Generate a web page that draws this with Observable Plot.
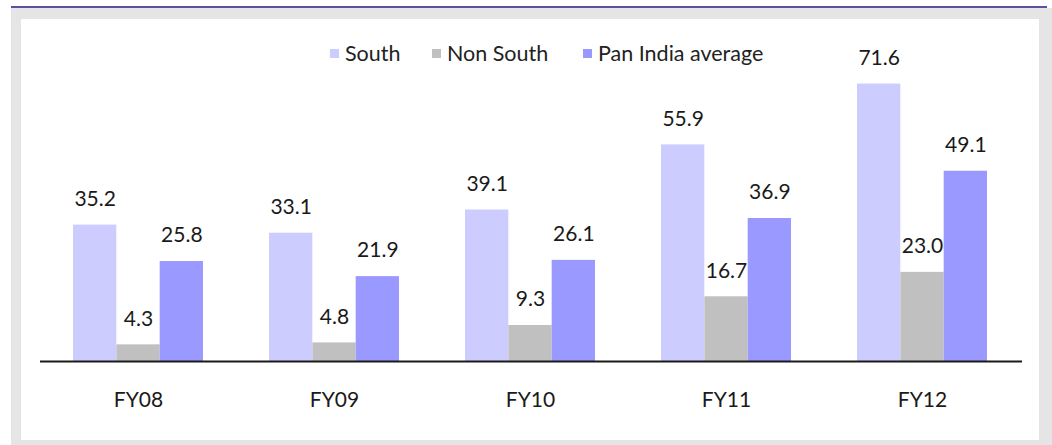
<!DOCTYPE html>
<html>
<head>
<meta charset="utf-8">
<script src="https://cdn.jsdelivr.net/npm/d3@7"></script>
<script src="https://cdn.jsdelivr.net/npm/@observablehq/plot@0.6"></script>
<style>
  html, body { margin: 0; padding: 0; background: #fff; width: 1052px; height: 445px; overflow: hidden; }
  #topline { position: absolute; left: 11px; top: 6px; width: 1036px; height: 2px; background: #5a529e; }
  #frame { position: absolute; left: 11px; top: 8px; width: 1041px; height: 437px; background: #e5e5e5; }
  #panel { position: absolute; left: 21px; top: 19px; width: 1018px; height: 421px; background: #fff; }
  #chart { position: absolute; left: 0; top: 0; }
  #legend { position: absolute; top: 40px; left: 0; font-family: Lato, "Open Sans", sans-serif; font-size: 21.5px; color: #222; }
  .item { position: absolute; white-space: nowrap; display: flex; align-items: center; }
  .sw { width: 9px; height: 9px; display: inline-block; margin-right: 6px; }
</style>
</head>
<body>
<div id="topline"></div>
<div id="frame"></div>
<div id="panel"></div>
<div id="chart"></div>
<div id="legend"></div>
<script>
const years = ["FY08", "FY09", "FY10", "FY11", "FY12"];
const seriesNames = ["South", "Non South", "Pan India average"];
const south = [35.2, 33.1, 39.1, 55.9, 71.6];
const nonSouth = [4.3, 4.8, 9.3, 16.7, 23.0];
const panIndia = [25.8, 21.9, 26.1, 36.9, 49.1];
const colors = ["#ccccff", "#c0c0c0", "#9999ff"];

const seriesValues = [south, nonSouth, panIndia];
const data = [];
years.forEach((yr, i) => {
  seriesNames.forEach((s, j) => {
    data.push({year: yr, series: s, value: seriesValues[j][i]});
  });
});

const W = 1052, H = 445, ML = 40, MR = 30, MT = 51, MB = 84;
const PAD_IN = 0.338, PAD_OUT = 0.169, ALIGN = 0.477;
// bandwidth of the group scale, used to split each group into three bars
const bw = d3.scaleBand(years, [ML, W - MR]).paddingInner(PAD_IN).paddingOuter(PAD_OUT).align(ALIGN).bandwidth();
const third = bw / 3;

const marks = [];
seriesNames.forEach((s, j) => {
  const sub = data.filter(d => d.series === s);
  marks.push(Plot.barY(sub, {x: "year", y: "value", fill: "series", insetLeft: j * third, insetRight: (2 - j) * third}));
  marks.push(Plot.text(sub, {x: "year", y: "value", text: d => d.value.toFixed(1), dx: (j - 1) * third, dy: -26, fontSize: 21, fill: "#1a1a1a"}));
});
marks.push(Plot.ruleY([0], {stroke: "#1a1a1a", strokeWidth: 2}));
marks.push(Plot.axisX({anchor: "bottom", tickSize: 0, tickPadding: 31, fontSize: 21, label: null, color: "#1a1a1a"}));

const chart = Plot.plot({
  width: W,
  height: H,
  marginLeft: ML,
  marginRight: MR,
  marginTop: MT,
  marginBottom: MB,
  style: {background: "transparent", fontFamily: "Lato, 'Open Sans', sans-serif"},
  x: {domain: years, paddingInner: PAD_IN, paddingOuter: PAD_OUT, align: ALIGN, label: null},
  y: {domain: [0, 80], axis: null},
  color: {domain: seriesNames, range: colors},
  marks
});
document.getElementById("chart").appendChild(chart);

const legendPos = [330, 432, 583];
const legend = document.getElementById("legend");
seriesNames.forEach((s, i) => {
  const it = document.createElement("div");
  it.className = "item";
  it.style.left = legendPos[i] + "px";
  const sw = document.createElement("span");
  sw.className = "sw";
  sw.style.background = colors[i];
  it.appendChild(sw);
  it.appendChild(document.createTextNode(s));
  legend.appendChild(it);
});
</script>
</body>
</html>
